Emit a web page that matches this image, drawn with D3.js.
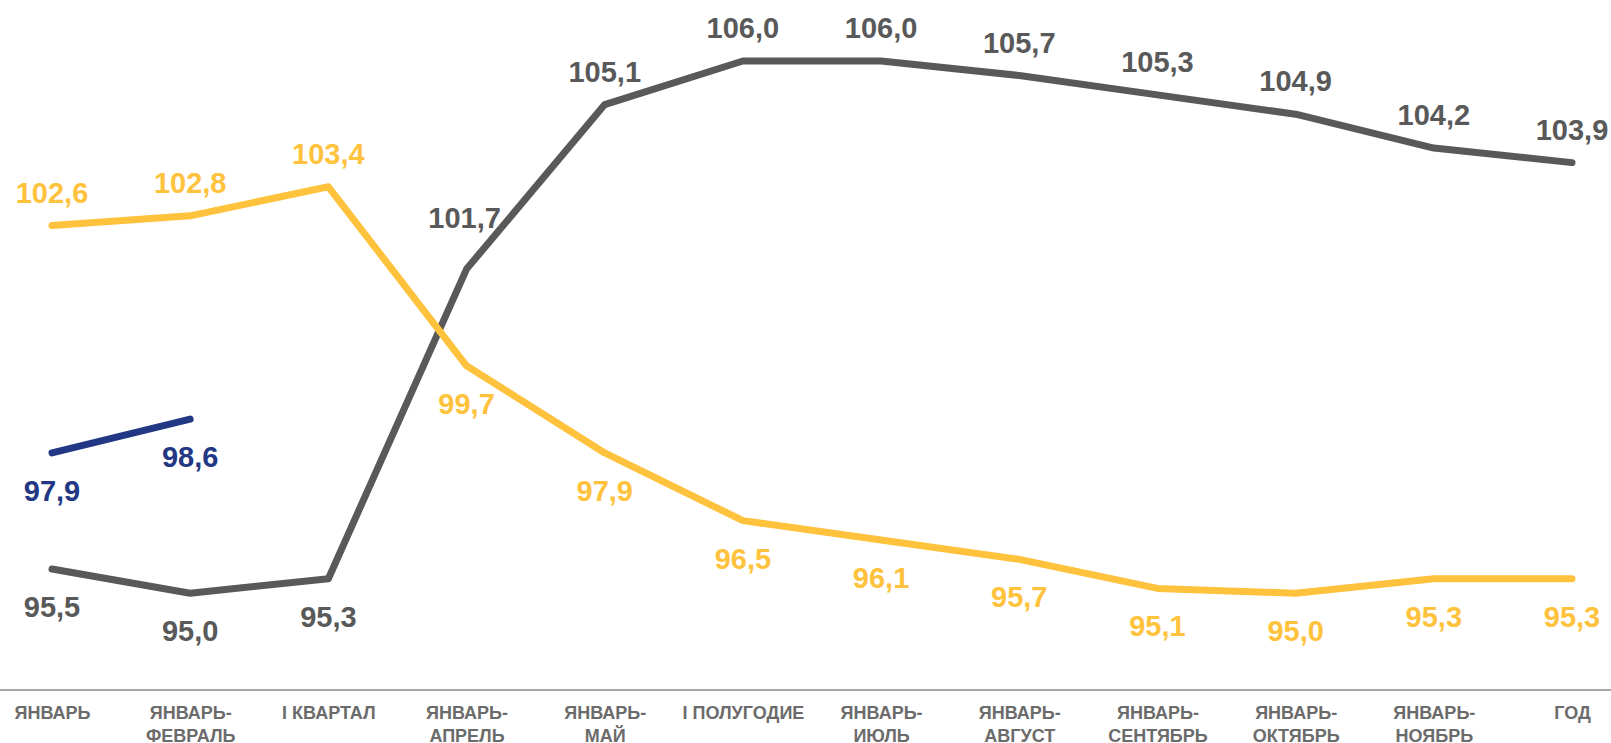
<!DOCTYPE html>
<meta charset="utf-8">
<style>
body { margin: 0; background: #fff; }
svg { font-family: "Liberation Sans", Arial, sans-serif; font-weight: bold; }
.axis path { stroke: #a6a6a6; stroke-width: 2; }
.axis text { fill: #6b6b6b; font-size: 18px; font-weight: bold; }
.line { fill: none; stroke-width: 7; stroke-linecap: round; stroke-linejoin: round; }
.lbl { font-size: 29px; text-anchor: middle; }
</style>
<svg></svg>
<script src="https://d3js.org/d3.v7.min.js"></script>
<script>
var categories = ["ЯНВАРЬ", "ЯНВАРЬ-ФЕВРАЛЬ", "I КВАРТАЛ", "ЯНВАРЬ-АПРЕЛЬ", "ЯНВАРЬ-МАЙ",
  "I ПОЛУГОДИЕ", "ЯНВАРЬ-ИЮЛЬ", "ЯНВАРЬ-АВГУСТ", "ЯНВАРЬ-СЕНТЯБРЬ", "ЯНВАРЬ-ОКТЯБРЬ",
  "ЯНВАРЬ-НОЯБРЬ", "ГОД"];
var grayValues = [95.5, 95.0, 95.3, 101.7, 105.1, 106.0, 106.0, 105.7, 105.3, 104.9, 104.2, 103.9];
var yellowValues = [102.6, 102.8, 103.4, 99.7, 97.9, 96.5, 96.1, 95.7, 95.1, 95.0, 95.3, 95.3];
var navyValues = [97.9, 98.6];

var width = 1611, height = 743;
var svg = d3.select("svg").attr("width", width).attr("height", height);

var x = d3.scalePoint().domain(categories).range([52, 1572]);
var y = d3.scaleLinear().domain([93, 106]).range([690, 61]);

// x axis: plain line across the whole width, labels split at the hyphen
var axis = svg.append("g")
    .attr("class", "axis")
    .attr("transform", "translate(0," + y(93) + ")")
    .call(d3.axisBottom(x).tickSize(0).tickSizeOuter(0));
axis.select(".domain").attr("d", "M0,0H" + width);
axis.selectAll(".tick text").each(function(d) {
  var t = d3.select(this).text(null).attr("y", 0).attr("dy", null);
  var parts = d.indexOf("-") > 0 ? [d.slice(0, d.indexOf("-") + 1), d.slice(d.indexOf("-") + 1)] : [d];
  parts.forEach(function(p, i) {
    t.append("tspan").attr("x", 0).attr("y", 29 + i * 23).text(p);
  });
});

var series = [
  {values: grayValues, color: "#595959", below: function(i) { return i < 3; }},
  {values: yellowValues, color: "#FFC23D", below: function(i) { return i >= 3; }},
  {values: navyValues, color: "#233884", below: function() { return true; }}
];

var line = d3.line()
    .x(function(d, i) { return x(categories[i]); })
    .y(function(d) { return y(d); });

series.forEach(function(s) {
  svg.append("path")
      .attr("class", "line")
      .attr("stroke", s.color)
      .attr("d", line(s.values));
});

series.forEach(function(s, k) {
  svg.selectAll(".lbl-" + k)
    .data(s.values)
    .enter().append("text")
      .attr("class", "lbl")
      .attr("fill", s.color)
      .attr("x", function(d, i) { return x(categories[i]) - (k === 0 && i === 3 ? 2 : 0); })
      .attr("y", function(d, i) {
        if (k === 0 && i === 3) return y(d) - 41; // label lifted off the steep segment
        return s.below(i) ? y(d) + 48 : y(d) - 23;
      })
      .text(function(d) { return d3.format(".1f")(d).replace(".", ","); });
});
</script>
